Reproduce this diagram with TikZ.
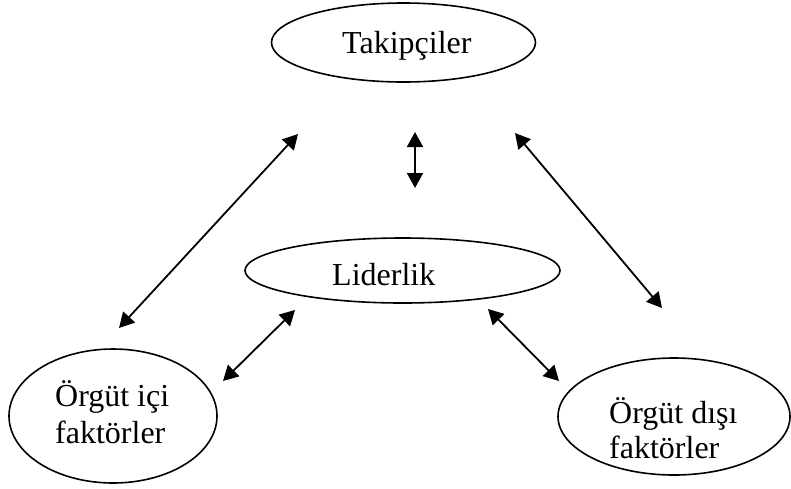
\documentclass[tikz,border=0pt]{standalone}
\usepackage{fontspec}
\setmainfont{Liberation Serif}
\usetikzlibrary{shapes.geometric,arrows.meta}
\begin{document}
\begin{tikzpicture}[x=1pt,y=-1pt,
  oval/.style={draw,ellipse,line width=1.6pt,inner sep=0pt},
  txt/.style={anchor=base west,inner sep=0pt,font=\fontsize{32}{37}\selectfont},
  conn/.style={line width=1.8pt,{Triangle[length=15pt,width=16pt]}-{Triangle[length=15pt,width=16pt]}}]
\useasboundingbox (0,0) rectangle (791,488);
\node[oval,minimum width=264pt,minimum height=79pt] (tak) at (403.5,42.5) {};
\node[oval,minimum width=315pt,minimum height=65pt] (lid) at (402.5,270.5) {};
\node[oval,minimum width=208pt,minimum height=134pt] (ici) at (113,416) {};
\node[oval,minimum width=232pt,minimum height=117pt] (dis) at (674,416.5) {};
\node[txt] (t1) at (342,53) {Takipçiler};
\node[txt] (t2) at (332,285) {Liderlik};
\node[txt] (t3) at (55,406) {Örgüt içi};
\node[txt] (t4) at (55,443) {faktörler};
\node[txt] (t5) at (609,423) {Örgüt dışı};
\node[txt] (t6) at (609,458) {faktörler};
\coordinate (a1) at (298,134);
\coordinate (a2) at (119,328);
\coordinate (b1) at (415,132);
\coordinate (b2) at (415,188);
\coordinate (c1) at (515,133);
\coordinate (c2) at (662,308);
\coordinate (d1) at (223,381);
\coordinate (d2) at (295,310);
\coordinate (e1) at (488,309);
\coordinate (e2) at (559,381);
\draw[conn] (a1) -- (a2);
\draw[conn] (b1) -- (b2);
\draw[conn] (c1) -- (c2);
\draw[conn] (d1) -- (d2);
\draw[conn] (e1) -- (e2);
\end{tikzpicture}
\end{document}
